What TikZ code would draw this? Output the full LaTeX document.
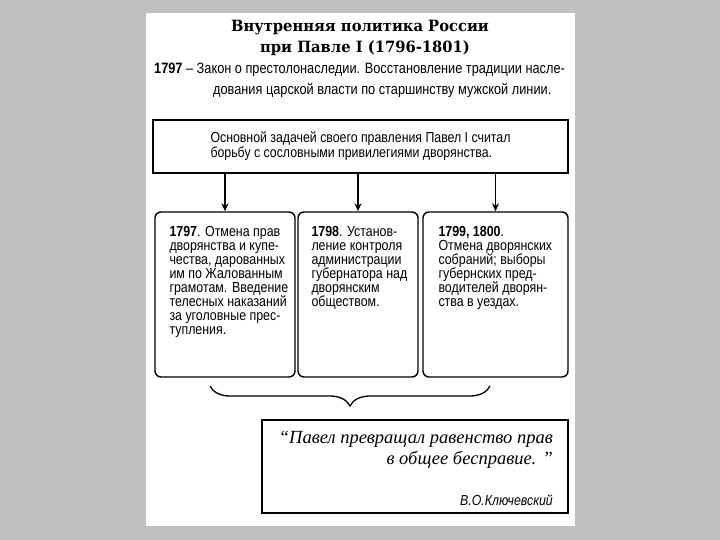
\documentclass[tikz,border=0pt]{standalone}
\usepackage{fontspec}
\setmainfont{Liberation Sans}[FakeStretch=0.85]
\newfontfamily\titlefont{DejaVu Serif}[FakeStretch=0.95]
\newfontfamily\quotefont{Liberation Serif}
\usetikzlibrary{positioning,arrows.meta,decorations.pathreplacing}
\definecolor{pagegray}{RGB}{192,192,192}

\tikzset{
  titletext/.style={inner sep=0pt, font=\titlefont\bfseries\fontsize{15.5}{18}\selectfont},
  bodytext/.style={inner sep=0pt, font=\fontsize{15}{16}\selectfont},
  mainbox/.style={draw, line width=1.6pt, minimum width=415pt, minimum height=53pt, align=left, inner sep=0pt, font=\fontsize{14.5}{15}\selectfont},
  stepbox/.style={draw, line width=1.4pt, rounded corners=6pt, minimum height=165pt, inner sep=0pt},
  boxtext/.style={anchor=north west, align=left, inner sep=0pt, font=\fontsize{14.6}{14}\selectfont},
  quotebox/.style={draw, line width=1.6pt, minimum width=306pt, minimum height=93pt, inner sep=0pt},
  downarrow/.style={line width=1.2pt, -{Stealth[length=8pt,width=7pt]}}
}

\begin{document}
\begin{tikzpicture}[x=1pt, y=-1pt]
        % Background
        \fill[pagegray] (0,0) rectangle (720,540);
        \fill[white] (146,13) rectangle (575,526);
        \useasboundingbox (0,0) rectangle (720,540);

        % Nodes
        \node (title1) [titletext] at (360,28) {Внутренняя политика России};
        \node (title2) [titletext] at (365,48) {при Павле I (1796-1801)};
        \node (law1) [bodytext, anchor=west] at (154,70) {\textbf{1797} -- Закон о престолонаследии. Восстановление традиции насле-};
        \node (law2) [bodytext, anchor=west] at (213,90) {дования царской власти по старшинству мужской линии.};

        \node (main) [mainbox] at (360.5,146.5) {Основной задачей своего правления Павел I считал\\борьбу с сословными привилегиями дворянства.};

        \node (b1) [stepbox, minimum width=140pt] at (225,294.5) {};
        \node (b2) [stepbox, minimum width=120pt] at (358,294.5) {};
        \node (b3) [stepbox, minimum width=145pt] at (495.5,294.5) {};

        \node (t1) [boxtext, xshift=15pt, yshift=-15pt] at (b1.north west) {\textbf{1797}. Отмена прав\\дворянства и купе-\\чества, дарованных\\им по Жалованным\\грамотам. Введение\\телесных наказаний\\за уголовные прес-\\тупления.};
        \node (t2) [boxtext, xshift=14pt, yshift=-15pt] at (b2.north west) {\textbf{1798}. Установ-\\ление контроля\\администрации\\губернатора над\\дворянским\\обществом.};
        \node (t3) [boxtext, xshift=16pt, yshift=-15pt] at (b3.north west) {\textbf{1799, 1800}.\\Отмена дворянских\\собраний; выборы\\губернских пред-\\водителей дворян-\\ства в уездах.};

        \coordinate (braceL) at (210,386);
        \coordinate (braceR) at (490,386);

        \node (quote) [quotebox] at (415,466.5) {};
        \node (qtext) [anchor=north east, align=right, inner sep=0pt, font=\quotefont\itshape\fontsize{18.5}{20.5}\selectfont] at (553,431) {“Павел превращал равенство прав\\в общее бесправие. ”};
        \node (qauthor) [anchor=east, inner sep=0pt, font=\itshape\fontsize{14.5}{15}\selectfont] at (553,500) {В.О.Ключевский};

        % Edges
        \draw[downarrow] (main.south -| b1.north) -- (b1.north);
        \draw[downarrow] (main.south -| b2.north) -- (b2.north);
        \draw[downarrow] (main.south -| b3.north) -- (b3.north);
        \draw[line width=1.3pt, decorate, decoration={brace, mirror, amplitude=20pt}] (braceL) -- (braceR);

\end{tikzpicture}
\end{document}
